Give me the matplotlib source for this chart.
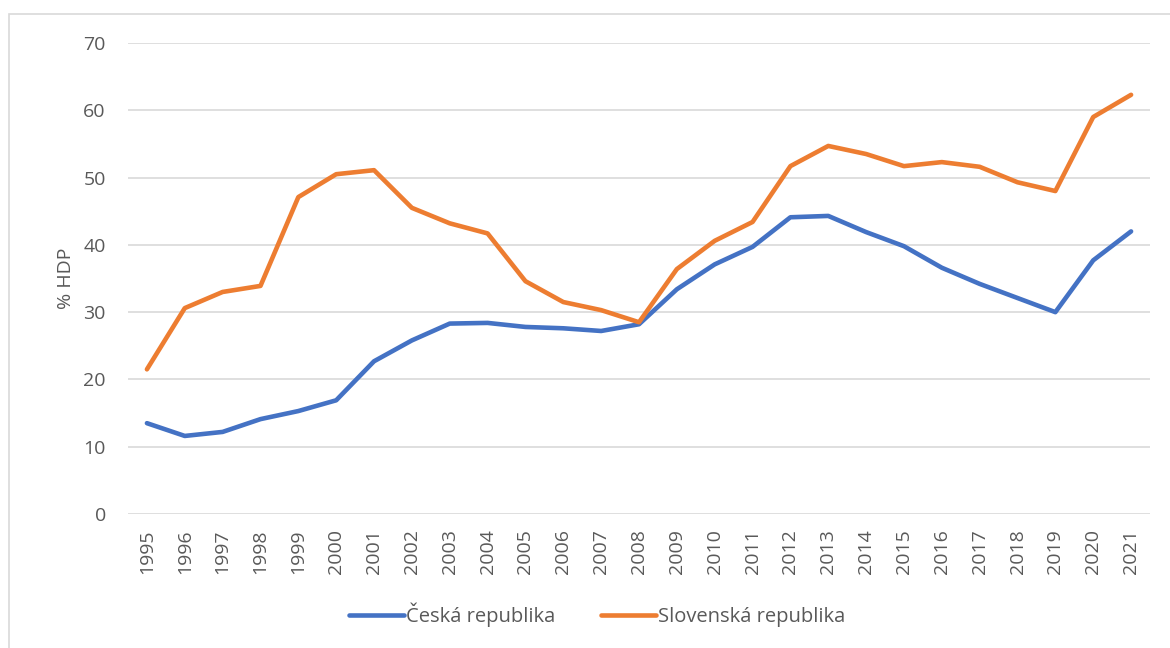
import numpy as np
import matplotlib.pyplot as plt
from matplotlib.patches import Rectangle

plt.rcParams['font.family'] = ['Open Sans', 'DejaVu Sans']

years = list(range(1995, 2022))
cz = [13.5, 11.6, 12.2, 14.1, 15.3, 16.9, 22.7, 25.8, 28.3, 28.4, 27.8, 27.6, 27.2, 28.2,
      33.4, 37.1, 39.7, 44.1, 44.3, 41.9, 39.8, 36.6, 34.2, 32.1, 30.0, 37.7, 42.0]
sk = [21.5, 30.6, 33.0, 33.9, 47.1, 50.5, 51.1, 45.5, 43.2, 41.7, 34.6, 31.5, 30.3, 28.5,
      36.4, 40.6, 43.4, 51.7, 54.7, 53.5, 51.7, 52.3, 51.6, 49.3, 48.0, 59.0, 62.3]
names = ['Česká republika', 'Slovenská republika']

txt = '#595959'
fig = plt.figure(figsize=(11.7, 6.48), dpi=100)
fig.patches.append(Rectangle((9/1170, -0.1), 1.2, 1 - 14/648 + 0.1, transform=fig.transFigure,
                             fill=False, edgecolor='#d9d9d9', linewidth=1.2))
ax = fig.add_axes([128/1170, 1 - 514/648, (1150 - 128)/1170, (514 - 43)/648])

ax.plot(years, cz, color='#4472c4', lw=3.3, solid_capstyle='round', label=names[0])
ax.plot(years, sk, color='#ed7d31', lw=3.3, solid_capstyle='round', label=names[1])

ax.set_xlim(1994.5, 2021.5)
ax.set_ylim(0, 70)
ax.set_yticks(range(0, 71, 10))
ax.set_xticks(years)
ax.set_xticklabels([str(y) for y in years], rotation=90)
ax.tick_params(axis='both', length=0, labelsize=14, labelcolor=txt)
ax.tick_params(axis='y', pad=16)
ax.tick_params(axis='x', pad=11)
ax.grid(axis='y', color='#d9d9d9', lw=1.2)
ax.set_axisbelow(True)
for s in ax.spines.values():
    s.set_visible(False)
ax.set_ylabel('% HDP', fontsize=14, color=txt, labelpad=6)

fig.legend(loc='center', bbox_to_anchor=(597/1170, 1 - 615/648), ncol=2, frameon=False,
           fontsize=14.5, labelcolor=txt, handlelength=2.7, handletextpad=0.1, columnspacing=2.3)

fig.savefig('out.png', dpi=100)
